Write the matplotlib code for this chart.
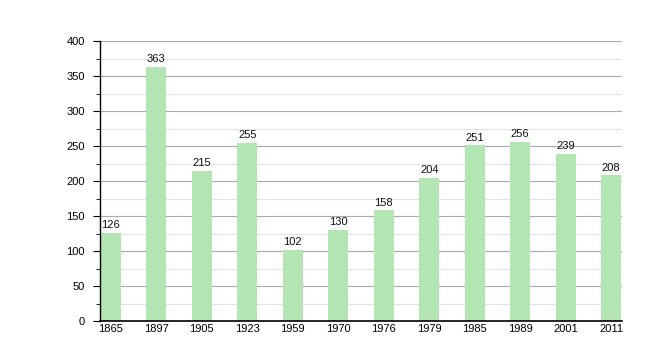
import matplotlib
matplotlib.use("Agg")
import matplotlib.pyplot as plt
import numpy as np

years = ["1865", "1897", "1905", "1923", "1959", "1970", "1976", "1979", "1985", "1989", "2001", "2011"]
population = [126, 363, 215, 255, 102, 130, 158, 204, 251, 256, 239, 208]

plt.rcParams['font.family'] = ['Liberation Sans', 'DejaVu Sans']

fig = plt.figure(figsize=(6.6, 3.6), dpi=100)
ax = fig.add_axes([0.1515, 0.1083, 0.7909, 0.7778])

x = np.arange(len(years))
ax.bar(x, population, width=0.44, color="#b3e6b3", zorder=2)
for xi, v in zip(x, population):
    ax.text(xi, v + 4, str(v), ha="center", va="bottom", fontsize=8, color="#111111", zorder=3)

ax.set_xlim(-0.24, 11.24)
ax.set_ylim(0, 400)
ax.set_yticks(np.arange(0, 401, 50))
ax.set_yticks(np.arange(25, 400, 50), minor=True)
ax.set_xticks(x)
ax.set_xticklabels(years)
ax.grid(axis="y", which="major", color="#aaaaaa", linewidth=0.8, zorder=1)
ax.grid(axis="y", which="minor", color="#e3e3e3", linewidth=0.8, zorder=1)

for s in ["top", "right"]:
    ax.spines[s].set_visible(False)
ax.spines["left"].set_linewidth(1.0)
ax.spines["bottom"].set_linewidth(1.2)
ax.tick_params(axis="y", which="major", length=5, labelsize=8, pad=6)
ax.tick_params(axis="y", which="minor", length=3)
ax.tick_params(axis="x", length=0, labelsize=8, pad=2)

fig.savefig("out.png")
